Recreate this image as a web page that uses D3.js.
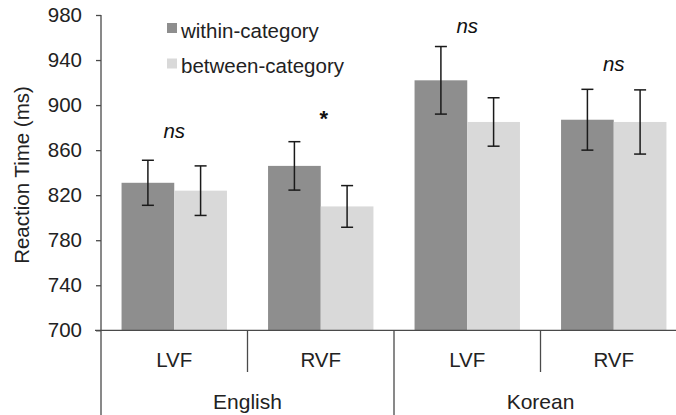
<!DOCTYPE html>
<html>
<head>
<meta charset="utf-8">
<style>
  body { margin: 0; background: #fff; }
  svg { display: block; font-family: "Liberation Sans", Arial, sans-serif; }
  .ytick text { font-size: 20.5px; fill: #222; }
</style>
</head>
<body>
<svg id="chart" width="676" height="415"></svg>
<script src="https://cdn.jsdelivr.net/npm/d3@7"></script>
<script>
// data
const languages = ['English', 'Korean']
const fields = ['LVF', 'RVF']
const seriesNames = ['within-category', 'between-category']
const withinMeans = [831, 846, 922, 887]
const betweenMeans = [824, 810, 885, 885]
const withinErr = [20, 21.5, 30, 27]
const betweenErr = [22, 18.5, 21.5, 28.5]
const marks = ['ns', '*', 'ns', 'ns']
const markValues = [871, 881, 964, 930]
const yTicks = [700, 740, 780, 820, 860, 900, 940, 980]

const colors = ['#8e8e8e', '#d9d9d9']
const lineColor = '#4a4a4a'

const svg = d3.select('#chart')

// one cell per language/field pair
const cells = []
languages.forEach(lang => fields.forEach(f => cells.push({ lang, field: f, key: lang + '-' + f })))
cells.forEach((c, i) => {
  c.values = [
    { s: seriesNames[0], v: withinMeans[i], e: withinErr[i] },
    { s: seriesNames[1], v: betweenMeans[i], e: betweenErr[i] }
  ]
  c.mark = marks[i]
  c.markV = markValues[i]
})

const y = d3.scaleLinear().domain([700, 980]).range([330.3, 15])
const x0 = d3.scaleBand().domain(cells.map(d => d.key)).range([101, 687])
const x1 = d3.scaleBand().domain(seriesNames).range([0, x0.bandwidth()]).paddingInner(0).paddingOuter(0.39)
const color = d3.scaleOrdinal().domain(seriesNames).range(colors)

// bars
const groups = svg.append('g').selectAll('g').data(cells).enter().append('g')
  .attr('transform', d => `translate(${x0(d.key)},0)`)

groups.selectAll('rect').data(d => d.values).enter().append('rect')
  .attr('x', d => x1(d.s)).attr('y', d => y(d.v))
  .attr('width', x1.bandwidth()).attr('height', d => y(700) - y(d.v))
  .attr('fill', d => color(d.s))

// error bars
const capW = 6
const err = groups.selectAll('g.err').data(d => d.values).enter().append('g').classed('err', true)
  .attr('stroke', '#1a1a1a').attr('stroke-width', 1.5)
err.append('line')
  .attr('x1', d => x1(d.s) + x1.bandwidth() / 2).attr('x2', d => x1(d.s) + x1.bandwidth() / 2)
  .attr('y1', d => y(d.v + d.e)).attr('y2', d => y(d.v - d.e))
err.append('line')
  .attr('x1', d => x1(d.s) + x1.bandwidth() / 2 - capW).attr('x2', d => x1(d.s) + x1.bandwidth() / 2 + capW)
  .attr('y1', d => y(d.v + d.e)).attr('y2', d => y(d.v + d.e))
err.append('line')
  .attr('x1', d => x1(d.s) + x1.bandwidth() / 2 - capW).attr('x2', d => x1(d.s) + x1.bandwidth() / 2 + capW)
  .attr('y1', d => y(d.v - d.e)).attr('y2', d => y(d.v - d.e))

// significance marks
groups.append('text')
  .attr('x', d => x0.bandwidth() / 2 + (d.mark === '*' ? 3 : 0))
  .attr('y', d => y(d.markV))
  .attr('text-anchor', 'middle')
  .style('font-size', d => d.mark === '*' ? '22px' : '20.5px')
  .attr('font-style', d => d.mark === '*' ? 'normal' : 'italic')
  .attr('font-weight', d => d.mark === '*' ? 'bold' : 'normal')
  .attr('fill', '#111')
  .text(d => d.mark)

// y axis
const yAxis = svg.append('g').attr('class', 'ytick').attr('transform', 'translate(101,0)')
  .call(d3.axisLeft(y).tickValues(yTicks).tickSize(5).tickPadding(14).tickSizeOuter(0))
yAxis.attr('font-family', null).attr('font-size', null)
yAxis.select('.domain').remove()
yAxis.selectAll('line').attr('stroke', lineColor).attr('stroke-width', 1.3)

svg.append('line').attr('x1', 101).attr('x2', 101).attr('y1', 15).attr('y2', 415)
  .attr('stroke', lineColor).attr('stroke-width', 1.3)

// x axis base line
svg.append('line').attr('x1', 95).attr('x2', 676).attr('y1', y(700)).attr('y2', y(700))
  .attr('stroke', lineColor).attr('stroke-width', 1.3)

// separators between cells
cells.slice(1).forEach(c => {
  const bx = x0(c.key)
  const full = c.field === fields[0]
  svg.append('line').attr('x1', bx).attr('x2', bx)
    .attr('y1', y(700)).attr('y2', full ? 415 : 372)
    .attr('stroke', lineColor).attr('stroke-width', 1.3)
})

// field labels
svg.append('g').selectAll('text').data(cells).enter().append('text')
  .attr('x', d => x0(d.key) + x0.bandwidth() / 2).attr('y', 367)
  .attr('text-anchor', 'middle').style('font-size', '20.5px').attr('fill', '#222')
  .text(d => d.field)

// language labels
svg.append('g').selectAll('text').data(languages).enter().append('text')
  .attr('x', d => x0(d + '-' + fields[0]) + x0.bandwidth())
  .attr('y', 409)
  .attr('text-anchor', 'middle').style('font-size', '21px').attr('fill', '#222')
  .text(d => d)

// y title
svg.append('text')
  .attr('transform', 'translate(29,175) rotate(-90)')
  .attr('text-anchor', 'middle').style('font-size', '20.5px').attr('fill', '#222')
  .text('Reaction Time (ms)')

// legend
const legend = svg.append('g').selectAll('g').data(seriesNames).enter().append('g')
  .attr('transform', (d, i) => `translate(167,${23 + i * 35.5})`)
legend.append('rect').attr('width', 10).attr('height', 10).attr('fill', d => color(d))
legend.append('text').attr('x', 14).attr('y', 14.5)
  .style('font-size', '20.5px').attr('fill', '#222')
  .text(d => d)
</script>
</body>
</html>
